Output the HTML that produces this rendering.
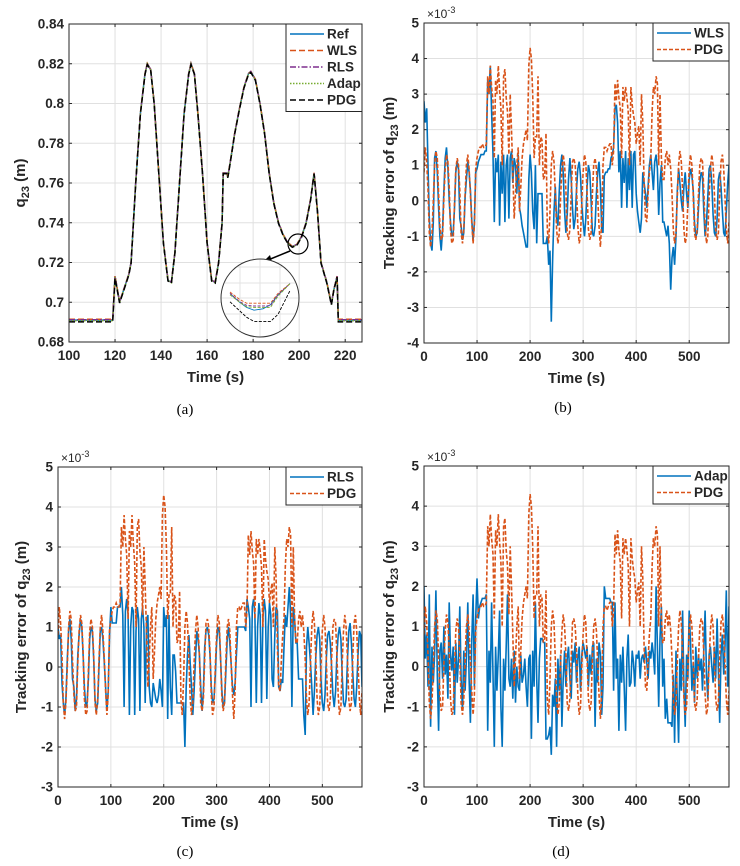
<!DOCTYPE html>
<html><head><meta charset="utf-8">
<style>
html,body{margin:0;padding:0;background:#fff;}
svg{display:block;font-family:"Liberation Sans",Arial,sans-serif;}
.tk{font-size:13.5px;font-weight:bold;fill:#262626;}
.lb{font-size:15px;font-weight:bold;fill:#262626;}
.cap{font-family:"Liberation Serif",serif;font-size:15px;fill:#000;}
</style></head>
<body>
<svg id="fig" width="740" height="866" viewBox="0 0 740 866"></svg>
<script>
// ---------- Panel (a) data ----------
const refT = [100,119,120,122,124,126,127,129,131,133,134,135.5,137,139,141,143,144.5,146,148,150,152,153,154.5,156,158,160,162,163.5,165,166.5,167,168.5,169,170,172,174,176,178,179,181,183,185,187,189,191,193,195,197,199,201,203,205,206.5,208,209.5,212,214,215,216.5,217,225,228];
const refV = [.691,.691,.713,.700,.707,.714,.720,.760,.795,.815,.820,.817,.800,.765,.730,.711,.710,.725,.760,.795,.815,.820,.815,.795,.765,.730,.711,.710,.720,.740,.765,.765,.763,.770,.785,.797,.808,.815,.816,.812,.800,.785,.765,.750,.740,.734,.730,.728,.729,.733,.740,.752,.765,.745,.720,.710,.699,.706,.713,.691,.691,.691];
const seriesNamesA = ["Ref","WLS","RLS","Adap","PDG"];
const seriesBiasA = [0,0.0004,0.0002,-0.0003,-0.0009];
const xTicksA = [100,120,140,160,180,200,220];
const yTicksA = [0.68,0.7,0.72,0.74,0.76,0.78,0.8,0.82,0.84];
const yTickLabelsA = ["0.68","0.7","0.72","0.74","0.76","0.78","0.8","0.82","0.84"];
const insetX = [-1,-0.7,-0.45,-0.2,0.1,0.35,0.6,1];
const insetRef = [0.9,0.3,-0.1,-0.3,-0.2,0.1,0.8,1.6];
const insetWLS = [1.0,0.5,0.2,0.2,0.2,0.2,0.9,1.6];
const insetRLS = [0.9,0.35,0.05,0.0,0.0,0.02,0.8,1.6];
const insetAdap = [0.8,0.3,-0.05,-0.1,-0.1,-0.1,0.7,1.6];
const insetPDG = [0.3,-0.3,-0.8,-1.1,-1.1,-1.1,-0.6,1.1];

// ---------- Error panels data (units 1e-3 m, sampled every 2.5 s) ----------
const errStep = 2.5;
const pdgErr = [0.8,1.5,1.1,0.3,-0.9,-1.3,-0.9,0.0,1.0,1.4,1.2,0.2,-0.7,-1.1,-1.0,0.1,0.9,1.3,1.1,0.4,-0.8,-1.2,-1.1,-0.1,0.9,1.2,1.0,0.3,-0.9,-1.2,-0.8,0.2,1.0,1.3,0.9,0.2,-0.6,-1.2,-0.7,0.9,
1.2,1.4,1.5,1.5,1.6,1.5,1.5,1.6,
3.5,3.0,3.8,3.2,2.8,1.2,3.4,3.0,3.8,3.1,2.6,1.0,3.5,3.7,2.9,2.5,1.3,3.0,2.0,0.8,-0.5,0.2,1.0,1.5,
-0.3,0.4,1.2,1.6,1.8,2.0,1.7,3.8,
4.3,4.0,3.0,1.2,1.8,1.8,3.5,1.0,
1.8,1.7,0.6,0.7,1.9,-0.8,-1.2,-0.3,
1.0,1.4,1.1,0.2,-0.8,-1.2,-0.9,0.1,0.9,1.3,1.0,0.3,-0.9,-1.1,-0.8,0.2,1.1,1.2,1.0,0.4,-0.7,-1.2,-1.0,0.0,0.8,1.3,1.1,0.2,-0.8,-1.1,-0.9,0.2,1.0,1.2,0.9,0.1,-0.7,-1.3,-0.6,1.0,
1.5,1.5,1.4,1.5,1.6,1.6,1.0,1.4,
3.3,2.8,3.4,2.9,2.6,1.2,3.2,2.8,3.2,2.9,2.5,1.0,3.2,2.7,2.4,2.2,1.6,1.9,2.1,1.0,3.0,2.2,0.5,-0.5,-0.6,0.2,0.8,1.2,2.5,3.2,3.0,3.5,3.3,1.0,3.0,1.2,0.6,0.6,1.2,1.4,
1.0,1.3,0.9,0.2,-0.8,-1.2,-0.9,0.1,1.0,1.4,1.1,0.3,-0.8,-1.2,-1.0,0.0,0.9,1.3,1.0,0.2,-0.9,-1.1,-0.8,0.2,1.0,1.2,1.1,0.3,-0.7,-1.2,-1.0,0.1,0.9,1.3,1.0,0.2,-0.8,-1.1,-0.9,0.2,1.1,1.3,0.9,0.1,-0.8,-1.2,-0.6];
const wlsErr = [2.8,2.2,2.6,1.0,-0.5,-1.2,-1.4,-0.6,1.2,1.4,0.8,-0.2,-1.0,-1.4,-0.8,0.3,1.2,1.5,0.9,0.0,-0.6,-1.0,-0.9,-0.2,0.8,1.1,0.9,-0.5,-0.7,-1.1,-0.9,0.1,0.6,1.1,0.8,0.3,-0.5,-1.1,-0.6,0.8,
0.9,1.1,1.2,1.3,1.3,1.3,1.4,1.4,
3.4,3.0,3.8,2.5,1.3,-0.6,1.2,0.8,1.3,-0.7,1.1,0.2,1.3,-0.6,1.0,1.3,-0.5,1.2,1.4,0.5,1.2,1.0,0.2,1.3,
-0.2,-0.4,-0.7,-0.9,-1.1,-1.3,-1.3,0.6,
1.3,0.8,-0.3,-0.8,1.0,-1.2,0.2,0.2,
0.2,0.2,-1.2,-1.2,-1.2,-1.0,-1.8,-1.4,
-3.4,-1.7,-0.3,0.4,-0.5,-0.7,0.3,1.0,1.3,0.8,-0.3,-0.9,-0.4,0.6,1.2,0.6,-0.2,-0.8,-0.5,0.3,0.9,1.1,0.7,-0.1,-0.6,-1.0,-0.5,0.4,1.0,0.8,0.0,-0.9,-1.0,-0.7,0.2,0.8,1.1,0.4,-0.8,-0.9,
0.7,0.8,0.8,0.9,0.9,1.2,1.3,1.5,
2.6,2.7,2.2,0.8,1.4,-0.2,1.2,0.5,1.4,-0.2,1.2,0.3,1.4,-0.2,1.3,1.4,0.2,-0.3,-0.6,-0.9,-0.5,0.8,0.5,0.2,-0.2,0.4,1.0,1.3,0.8,0.3,1.1,1.3,0.9,-0.4,0.5,1.0,-0.6,-0.6,-0.8,-1.0,
-0.7,-1.2,-2.5,-1.6,-1.3,-1.8,-1.0,0.3,0.9,0.5,0.0,-0.3,0.4,0.8,0.2,-0.2,0.6,0.9,0.7,0.3,-0.6,-1.0,-0.9,-0.2,0.5,0.8,0.7,-0.3,-1.0,-0.6,0.1,0.9,1.0,0.5,-0.4,-0.9,-1.0,-0.5,0.6,0.8,0.4,-0.3,-0.9,-1.0,-0.3,0.5,1.0];
const rlsErr = [1.0,0.7,0.8,-0.4,-0.9,-1.2,-0.8,0.2,0.9,1.2,0.7,-0.3,-0.5,-1.1,-0.8,0.3,0.8,1.2,1.0,0.3,-0.5,-1.0,-0.9,-0.3,0.7,1.0,0.9,0.2,-0.8,-1.1,-0.9,0.0,0.9,1.0,0.7,0.1,-0.5,-1.1,-0.6,0.8,
1.5,1.1,1.1,1.1,1.1,1.5,1.5,1.5,
2.0,1.3,-1.0,1.4,1.7,1.3,-1.2,1.0,1.5,1.4,-1.2,0.9,1.5,1.2,-1.1,1.2,1.5,1.0,-0.9,1.2,1.3,-0.5,-0.9,-1.0,
-0.4,-0.6,-0.8,-0.9,-0.7,-0.3,-0.6,-1.0,
1.5,1.0,1.3,-1.3,1.3,-0.5,-1.2,0.3,
0.3,-0.1,-0.9,-0.9,-0.9,-0.9,-0.9,-0.9,
-2.0,-0.5,0.3,0.8,0.1,-0.5,-1.2,-0.6,0.2,0.9,0.7,0.3,-0.5,-1.1,-0.6,0.5,0.9,1.0,0.8,0.3,-0.5,-0.9,-0.8,-0.2,0.6,1.0,0.9,0.2,-0.6,-1.0,-0.9,-0.1,0.7,1.0,0.6,0.1,-0.5,-0.7,-0.4,0.3,
1.0,1.0,1.0,1.0,1.0,1.0,0.9,1.7,
1.5,1.2,-1.0,1.5,1.7,1.3,-0.9,1.0,1.6,1.3,-0.9,1.2,1.7,1.4,-0.8,1.0,1.6,1.3,-0.3,-0.5,0.8,1.5,1.4,-0.5,-0.6,-0.3,-0.4,0.5,1.3,1.0,1.5,2.0,1.3,-1.0,1.5,1.2,0.6,0.6,-0.3,-0.3,
-0.3,-0.3,-1.2,-1.7,0.5,1.0,0.6,0.1,-0.5,-1.2,-0.6,0.2,0.8,1.0,0.7,-0.3,-0.9,-1.1,-0.7,0.2,0.8,0.9,0.6,0.0,-0.7,-1.0,-0.6,0.3,0.8,1.0,0.7,-0.2,-0.9,-1.0,-0.8,0.2,0.9,1.1,0.6,-0.1,-0.8,-1.0,-0.5,0.3,0.9,0.8,-0.5];
const adapErr = [2.0,0.2,0.8,-0.5,1.8,-1.5,0.5,-0.4,0.3,1.9,-0.2,-1.6,0.4,0.6,-0.3,1.0,-0.2,0.3,-0.8,1.6,0.3,-0.1,0.5,-1.2,0.6,-0.4,0.2,1.5,-0.3,-1.1,0.4,-0.6,0.2,1.6,-0.3,-1.4,0.6,1.8,-0.5,1.2,
2.2,1.2,1.5,1.6,1.7,1.7,1.7,1.8,
-1.6,0.4,-0.4,1.6,-0.2,-2.0,0.5,-0.6,0.3,1.4,-1.0,-2.0,0.2,-0.6,0.5,1.8,-0.3,-0.5,0.2,-0.8,0.4,-0.9,0.0,-0.5,
-0.6,0.3,-0.4,-0.2,0.2,-0.5,-1.0,0.2,
0.3,-1.8,0.4,-0.5,1.6,-0.3,-1.4,0.2,
0.7,0.7,0.6,0.6,-1.8,-1.8,-1.7,-1.5,
-2.2,-0.7,-1.0,-0.3,-2.0,0.2,-0.6,0.3,-1.5,-0.3,0.4,-0.5,0.2,0.5,-0.3,-0.8,0.4,0.1,0.6,-0.4,0.2,0.5,-0.6,0.3,0.6,0.4,0.2,0.5,-0.5,0.3,-0.2,0.5,0.6,-1.5,0.2,-0.4,0.6,0.3,-1.2,-0.5,
2.0,1.7,1.7,1.7,1.7,1.6,1.6,-0.6,
1.6,-0.3,0.2,-1.6,0.3,-0.4,0.5,-0.5,-1.6,0.2,0.8,-0.5,-0.4,0.4,0.1,-0.5,0.3,0.2,0.4,-0.3,0.2,0.3,0.1,0.5,0.1,-0.3,0.4,0.2,0.6,0.3,-0.2,2.0,0.5,-1.0,0.7,1.5,-0.5,0.2,-1.3,-0.8,
-1.4,-1.4,-1.4,-1.5,-0.2,-1.9,0.4,-0.8,-1.9,0.2,-0.6,1.4,-0.5,-1.5,0.3,-0.3,1.4,0.6,-0.6,0.1,-0.9,0.5,-0.3,0.3,-0.1,0.2,-0.6,0.4,1.4,-0.2,-0.8,0.3,0.5,0.0,-0.4,0.5,-0.3,1.2,-0.1,-1.4,0.3,0.8,-0.2,0.5,1.9,-0.5,1.5];
const xTicksErr = [0,100,200,300,400,500];

const NS = "http://www.w3.org/2000/svg";
const svg = document.getElementById("fig");
function el(tag, attrs, parent){
  const e = document.createElementNS(NS, tag);
  for (const k in attrs) e.setAttribute(k, attrs[k]);
  (parent||svg).appendChild(e);
  return e;
}
const BLUE="#0072BD", ORANGE="#D95319", PURPLE="#7E2F8E", GREEN="#77AC30";

function makeAxes(p){
  const g = el("g",{});
  
  
  const sx = v => p.x0 + (v - p.xmin)/(p.xmax - p.xmin)*(p.x1 - p.x0);
  const sy = v => p.y1 - (v - p.ymin)/(p.ymax - p.ymin)*(p.y1 - p.y0);
  el("rect",{x:p.x0,y:p.y0,width:p.x1-p.x0,height:p.y1-p.y0,fill:"#fff"},g);
  p.xticks.forEach(t=>{
    const gl = el("line",{x1:sx(t),x2:sx(t),y1:p.y0,y2:p.y1,stroke:"#e0e0e0","stroke-width":1},g);
    
    
    el("line",{x1:sx(t),x2:sx(t),y1:p.y1,y2:p.y1-3,stroke:"#262626"},g);
    el("line",{x1:sx(t),x2:sx(t),y1:p.y0,y2:p.y0+3,stroke:"#262626"},g);
    const tx = el("text",{x:sx(t),y:p.y1+18,"text-anchor":"middle",class:"tk"},g);
    tx.textContent = String(t);
    
    
  });
  p.yticks.forEach((t,i)=>{
    const gl = el("line",{x1:p.x0,x2:p.x1,y1:sy(t),y2:sy(t),stroke:"#e0e0e0","stroke-width":1},g);
    
    
    el("line",{x1:p.x0,x2:p.x0+3,y1:sy(t),y2:sy(t),stroke:"#262626"},g);
    el("line",{x1:p.x1,x2:p.x1-3,y1:sy(t),y2:sy(t),stroke:"#262626"},g);
    const tx = el("text",{x:p.x0-5,y:sy(t)+4.5,"text-anchor":"end",class:"tk"},g);
    tx.textContent = p.ylabels ? p.ylabels[i] : String(t);
    
    
  });
  const clipId = "clip"+p.name;
  const cp = el("clipPath",{id:clipId},g);
  el("rect",{x:p.x0,y:p.y0,width:p.x1-p.x0,height:p.y1-p.y0},cp);
  const plot = el("g",{"clip-path":"url(#"+clipId+")"},g);
  const xl = el("text",{x:(p.x0+p.x1)/2,y:p.xlabelY,"text-anchor":"middle",class:"lb"},g);
  xl.textContent = "Time (s)";
  
  
  const yl = el("text",{x:0,y:0,"text-anchor":"middle",class:"lb",transform:`translate(${p.ylabelX},${(p.y0+p.y1)/2}) rotate(-90)`},g);
  
  
  const t1 = el("tspan",{},yl); t1.textContent = p.ylabelPre + "q";
  const t2 = el("tspan",{dy:4,"font-size":"11px"},yl); t2.textContent = "23";
  const t3 = el("tspan",{dy:-4},yl); t3.textContent = " (m)";
  return {g, plot, sx, sy};
}
function finishBox(p, g){
  const b = el("rect",{x:p.x0,y:p.y0,width:p.x1-p.x0,height:p.y1-p.y0,fill:"none",stroke:"#262626","stroke-width":1},g);
  
  
}
function legend(g, x0, y0, w, entries){
  const lg = el("g",{},g);
  
  
  const rh = 16.5;
  el("rect",{x:x0,y:y0,width:w,height:entries.length*rh+5,fill:"#fff",stroke:"#262626","stroke-width":1},lg);
  entries.forEach((e,i)=>{
    const yy = y0 + 10 + i*rh;
    const ent = el("g",{},lg);
    
    
    el("line",{x1:x0+4,x2:x0+38,y1:yy,y2:yy,stroke:e.color,"stroke-width":1.4,"stroke-dasharray":e.dash||"none"},ent);
    const t = el("text",{x:x0+41,y:yy+4.5,"text-anchor":"start",class:"tk"},ent);
    t.textContent = e.label;
  });
}
function exponent(p){
  const t = el("text",{x:p.x0+3,y:p.y0-5,"font-size":"12px",fill:"#262626"});
  
  
  const a = el("tspan",{},t); a.textContent = "×10";
  const b = el("tspan",{dy:-5,"font-size":"9px"},t); b.textContent = "-3";
}
function caption(x,y,txt,name){
  const t = el("text",{x:x,y:y,"text-anchor":"middle",class:"cap"});
  t.textContent = txt;
  
  
}
function errPath(ax, arr){
  return arr.map((v,i)=>(i?"L":"M")+ax.sx(i*errStep).toFixed(1)+","+ax.sy(v).toFixed(1)).join("");
}

// ---------- Panel A ----------
const pA = {name:"panel-a",x0:69,x1:362,y0:24,y1:342,xmin:100,xmax:227.3,ymin:0.68,ymax:0.84,xticks:xTicksA,yticks:yTicksA,ylabels:yTickLabelsA,xlabelY:382,ylabelX:25,ylabelPre:""};
const A = makeAxes(pA);
const styleA = [{c:BLUE,d:"none"},{c:ORANGE,d:"6,3"},{c:PURPLE,d:"6,2,1.5,2"},{c:GREEN,d:"1.5,1.5"},{c:"#000",d:"6,3"}];
seriesNamesA.forEach((nm,si)=>{
  const d = refT.map((t,i)=>(i?"L":"M")+A.sx(t).toFixed(1)+","+A.sy(refV[i]+(t>120&&t<217?seriesBiasA[si]*0.4:seriesBiasA[si])).toFixed(1)).join("");
  const path = el("path",{d:d,fill:"none",stroke:styleA[si].c,"stroke-width":1.5,"stroke-dasharray":styleA[si].d},A.plot);
  
  
});
const zc = el("circle",{cx:298,cy:244,r:10,fill:"none",stroke:"#000","stroke-width":1.2},A.g);


const ar = el("line",{x1:290,y1:251,x2:268,y2:260,stroke:"#000","stroke-width":1.5},A.g);


el("path",{d:"M263,262 L270,255 L272,262 Z",fill:"#000"},A.g);
const inset = el("g",{},A.g);


el("circle",{cx:260,cy:298,r:39,fill:"#fff",stroke:"#333","stroke-width":1},inset);
el("clipPath",{id:"insetClip"},inset).appendChild((()=>{const c=document.createElementNS(NS,"circle");c.setAttribute("cx",260);c.setAttribute("cy",298);c.setAttribute("r",38.5);return c;})());
const ig = el("g",{"clip-path":"url(#insetClip)"},inset);
[267,283,298,314].forEach(y=>el("line",{x1:220,x2:300,y1:y,y2:y,stroke:"#e3e3e3"},ig));
[240,260,280].forEach(x=>el("line",{x1:x,x2:x,y1:258,y2:338,stroke:"#e3e3e3"},ig));
[insetRef,insetWLS,insetRLS,insetAdap,insetPDG].forEach((arr,si)=>{
  const d = arr.map((v,i)=>(i?"L":"M")+(260+insetX[i]*30).toFixed(1)+","+(306-v*14).toFixed(1)).join("");
  const pth = el("path",{d:d,fill:"none",stroke:styleA[si].c,"stroke-width":0.9,"stroke-dasharray":styleA[si].d==="none"?"none":"3,1.5"},ig);
  
  
});
finishBox(pA, A.g);
legend(A.g, 286, 24, 76, [{label:"Ref",color:BLUE},{label:"WLS",color:ORANGE,dash:"6,3"},{label:"RLS",color:PURPLE,dash:"6,2,1.5,2"},{label:"Adap",color:GREEN,dash:"1.5,1.5"},{label:"PDG",color:"#000",dash:"6,3"}]);
caption(185,414,"(a)","caption-a");

// ---------- Error panels ----------
function errPanel(name, x0,x1,y0,y1,ymin,yticks, blueArr, blueName, xlabelY, ylabelX){
  const p = {name:name,x0:x0,x1:x1,y0:y0,y1:y1,xmin:0,xmax:575,ymin:ymin,ymax:5,xticks:xTicksErr,yticks:yticks,xlabelY:xlabelY,ylabelX:ylabelX,ylabelPre:"Tracking error of "};
  const ax = makeAxes(p);
  const pb = el("path",{d:errPath(ax,blueArr),fill:"none",stroke:BLUE,"stroke-width":1.6},ax.plot);
  
  
  const po = el("path",{d:errPath(ax,pdgErr),fill:"none",stroke:ORANGE,"stroke-width":1.6,"stroke-dasharray":"4,2"},ax.plot);
  
  
  finishBox(p, ax.g);
  legend(ax.g, x1-76, y0, 76, [{label:blueName,color:BLUE},{label:"PDG",color:ORANGE,dash:"4,2"}]);
  exponent(p);
}
errPanel("panel-b",424,729,23,343,-4,[-4,-3,-2,-1,0,1,2,3,4,5],wlsErr,"WLS",383,394);
caption(563,412,"(b)","caption-b");
errPanel("panel-c",58,362,467,787,-3,[-3,-2,-1,0,1,2,3,4,5],rlsErr,"RLS",827,26);
caption(185,856,"(c)","caption-c");
errPanel("panel-d",424,729,466,787,-3,[-3,-2,-1,0,1,2,3,4,5],adapErr,"Adap",827,394);
caption(561,856,"(d)","caption-d");
</script>
</body></html>
